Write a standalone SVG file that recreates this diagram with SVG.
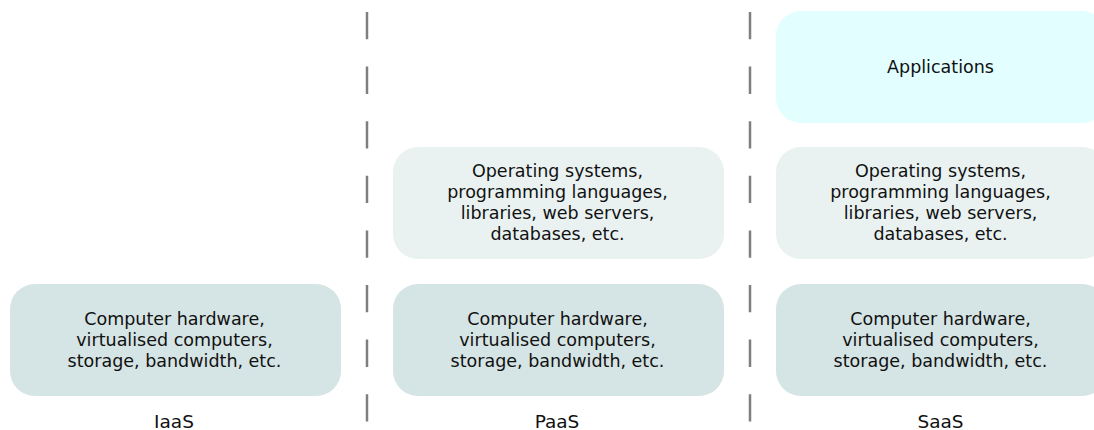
<svg xmlns="http://www.w3.org/2000/svg" width="1094" height="430" viewBox="0 0 1094 430">
<style>
text{font-family:"DejaVu Sans",Verdana,sans-serif;fill:#111;text-anchor:middle}
.t{font-size:17.5px}
.lbl{font-size:18.5px}
.hw{fill:#d5e4e4}
.os{fill:#e9f2f1}
.app{fill:#e2feff}
.sep{stroke:#7f7f7f;stroke-width:2.5;stroke-dasharray:27.3 27.3;fill:none}
</style>
<rect width="1094" height="430" fill="#fff"/>
<g id="connectors">
<line class="sep" x1="367" y1="12" x2="367" y2="422"/>
<line class="sep" x1="750" y1="12" x2="750" y2="422"/>
</g>
<g id="iaas-hw">
<rect class="hw" x="10" y="284" width="331" height="112" rx="25"/>
<text class="t" x="174.5" y="325">Computer hardware,</text>
<text class="t" x="174.5" y="346">virtualised computers,</text>
<text class="t" x="174.5" y="367">storage, bandwidth, etc.</text>
</g>
<g id="paas-os">
<rect class="os" x="393" y="147" width="331" height="112" rx="25"/>
<text class="t" x="557.5" y="177">Operating systems,</text>
<text class="t" x="557.5" y="198">programming languages,</text>
<text class="t" x="557.5" y="219">libraries, web servers,</text>
<text class="t" x="557.5" y="240">databases, etc.</text>
</g>
<g id="paas-hw">
<rect class="hw" x="393" y="284" width="331" height="112" rx="25"/>
<text class="t" x="557.5" y="325">Computer hardware,</text>
<text class="t" x="557.5" y="346">virtualised computers,</text>
<text class="t" x="557.5" y="367">storage, bandwidth, etc.</text>
</g>
<g id="saas-app">
<rect class="app" x="776" y="11" width="331" height="112" rx="25"/>
<text class="t" x="940.5" y="73">Applications</text>
</g>
<g id="saas-os">
<rect class="os" x="776" y="147" width="331" height="112" rx="25"/>
<text class="t" x="940.5" y="177">Operating systems,</text>
<text class="t" x="940.5" y="198">programming languages,</text>
<text class="t" x="940.5" y="219">libraries, web servers,</text>
<text class="t" x="940.5" y="240">databases, etc.</text>
</g>
<g id="saas-hw">
<rect class="hw" x="776" y="284" width="331" height="112" rx="25"/>
<text class="t" x="940.5" y="325">Computer hardware,</text>
<text class="t" x="940.5" y="346">virtualised computers,</text>
<text class="t" x="940.5" y="367">storage, bandwidth, etc.</text>
</g>
<g id="labels">
<text class="lbl" x="174" y="428">IaaS</text>
<text class="lbl" x="557" y="428">PaaS</text>
<text class="lbl" x="940.5" y="428">SaaS</text>
</g>
</svg>
